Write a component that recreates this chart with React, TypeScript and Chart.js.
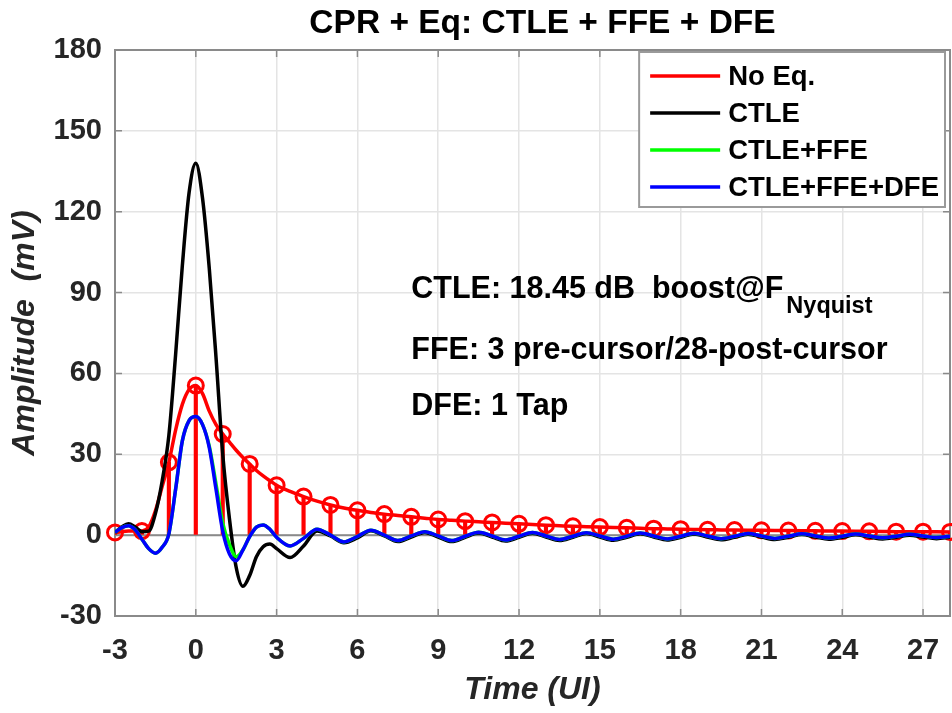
import React, { useEffect, useRef } from 'react';
import { Chart, registerables } from 'chart.js';

Chart.register(...registerables);

const FONT = "'Liberation Sans', Arial, Helvetica, sans-serif";

const chartTitle = 'CPR + Eq: CTLE + FFE + DFE';
const xTitle = 'Time (UI)';
const yTitle = 'Amplitude  (mV)';
const seriesNames = ['No Eq.', 'CTLE', 'CTLE+FFE', 'CTLE+FFE+DFE'];
const seriesColors = ['#ff0000', '#000000', '#00ff00', '#0000ff'];
const annotationLines = ['CTLE: 18.45 dB  boost@F', 'FFE: 3 pre-cursor/28-post-cursor', 'DFE: 1 Tap'];
const annotationSub = 'Nyquist';
const annotationX = 8;
const annotationY = [88, 65.5, 44.6];

// axis ranges / ticks
const xMin = -3;
const xMax = 28;
const xStep = 3;
const yMin = -30;
const yMax = 180;
const yStep = 30;

// time grid of the continuous waveforms (UI)
const timeUI = [
  -3, -2.75, -2.5, -2.25, -2, -1.75, -1.5, -1.25, -1, -0.75, -0.5, -0.25, 0,
  0.25, 0.5, 0.75, 1, 1.25, 1.5, 1.75, 2, 2.25, 2.5, 2.75, 3,
  3.5, 4, 4.5, 5, 5.5, 6, 6.5, 7, 7.5, 8, 8.5, 9, 9.5, 10, 10.5, 11, 11.5, 12,
  12.5, 13, 13.5, 14, 14.5, 15, 15.5, 16, 16.5, 17, 17.5, 18, 18.5, 19, 19.5, 20,
  20.5, 21, 21.5, 22, 22.5, 23, 23.5, 24, 24.5, 25, 25.5, 26, 26.5, 27, 27.5, 28,
];

// No Eq. continuous pulse response (mV)
const noEqMv = [
  1, 1.3, 1.5, 1.5, 1.5, 3, 9, 18, 27, 39, 48.5, 54, 55.5,
  52.5, 46, 41, 37.5, 34.5, 31.5, 28.8, 26.4, 24, 22, 20.2, 18.5,
  16.2, 14.3, 12.6, 11.2, 10.1, 9.2, 8.4, 7.8, 7.3, 6.8, 6.3, 5.8, 5.5, 5.2, 4.95, 4.7, 4.45, 4.2,
  3.95, 3.7, 3.5, 3.3, 3.15, 3.0, 2.85, 2.7, 2.55, 2.4, 2.3, 2.2, 2.1, 2.0, 1.95, 1.9,
  1.85, 1.8, 1.75, 1.7, 1.65, 1.6, 1.55, 1.5, 1.45, 1.4, 1.35, 1.3, 1.3, 1.3, 1.25, 1.2,
];

// CTLE pulse response (mV)
const ctleMv = [
  1, 3, 4.2, 3, 1.3, 1.5, 8, 20, 37, 67, 100, 127, 138,
  125, 99, 66, 30, 6, -12, -19, -15, -8, -4.3, -3.3, -5,
  -8.3, -4, 1.5, -0.3, -2.8, -1, 1.6, -0.3, -2.4, -0.7, 1.0, -0.7, -2.4, -0.8, 0.8, -0.7, -2.2, -0.8,
  0.7, -0.7, -2.0, -0.8, 0.6, -0.7, -1.9, -0.8, 0.5, -0.7, -1.8, -0.8, 0.4, -0.7, -1.7, -0.8,
  0.3, -0.7, -1.6, -0.8, 0.2, -0.7, -1.5, -0.8, 0.1, -0.7, -1.4, -0.8, 0, -0.7, -1.3, -0.8,
];

// CTLE+FFE pulse response (mV)
const ctleFfeMv = [
  1, 2.8, 3.5, 2, -1.5, -5, -6.7, -4.5, 0.5, 17, 35, 42.5, 44,
  41, 33, 19, 4.5, -3.5, -8, -5.5, -0.5, 3, 3.8, 2.2, -0.8,
  -4, -1.2, 2.2, 0, -2.5, -0.5, 1.8, 0, -2, -0.3, 1.3, -0.3, -2, -0.4, 1.1, -0.3, -1.8, -0.4,
  1, -0.3, -1.6, -0.4, 0.9, -0.3, -1.5, -0.4, 0.8, -0.3, -1.4, -0.4, 0.7, -0.3, -1.3, -0.4,
  0.6, -0.3, -1.2, -0.4, 0.5, -0.3, -1.1, -0.4, 0.4, -0.3, -1.0, -0.4, 0.3, -0.3, -0.9, -0.4,
];

// CTLE+FFE+DFE pulse response (mV)
const ctleFfeDfeMv = [
  1, 2.8, 3.5, 2, -1.5, -5, -6.7, -4.5, 0.5, 17, 35, 42.5, 44,
  41, 32.5, 17, 1.5, -7, -9.5, -5.5, -0.5, 3, 3.8, 2.2, -0.8,
  -4, -1.2, 2.2, 0, -2.5, -0.5, 1.8, 0, -2, -0.3, 1.3, -0.3, -2, -0.4, 1.1, -0.3, -1.8, -0.4,
  1, -0.3, -1.6, -0.4, 0.9, -0.3, -1.5, -0.4, 0.8, -0.3, -1.4, -0.4, 0.7, -0.3, -1.3, -0.4,
  0.6, -0.3, -1.2, -0.4, 0.5, -0.3, -1.1, -0.4, 0.4, -0.3, -1.0, -0.4, 0.3, -0.3, -0.9, -0.4,
];

// No Eq. cursor samples (stems)
const cursorUI = [-3, -2, -1, 0, 1, 2, 3, 4, 5, 6, 7, 8, 9, 10, 11, 12, 13, 14, 15, 16, 17, 18, 19, 20, 21, 22, 23, 24, 25, 26, 27, 28];
const cursorMv = [1, 1.5, 27, 55.5, 37.5, 26.4, 18.5, 14.3, 11.2, 9.2, 7.8, 6.8, 5.8, 5.2, 4.7, 4.2, 3.7, 3.3, 3.0, 2.7, 2.4, 2.2, 2.0, 1.9, 1.8, 1.7, 1.6, 1.5, 1.4, 1.3, 1.3, 1.2];

const toXY = (xs: number[], ys: number[]) => xs.map((x, i) => ({ x, y: ys[i] }));

const AXIS_COLOR = '#8a8a8a';
const TEXT_COLOR = '#262626';

const zeroPadding = () => ({ left: 0, top: 0, right: 0, bottom: 0 });

const framePlugin = {
  id: 'matlabFrame',
  beforeDatasetsDraw(chart: any) {
    const { ctx, chartArea: a, scales } = chart;
    const xs = scales.x;
    const ys = scales.y;
    ctx.save();
    ctx.strokeStyle = AXIS_COLOR;
    ctx.lineWidth = 2;
    const y0 = ys.getPixelForValue(0);
    ctx.beginPath();
    ctx.moveTo(a.left, y0);
    ctx.lineTo(a.right, y0);
    ctx.stroke();
    ctx.lineWidth = 1.5;
    ctx.beginPath();
    xs.ticks.forEach((t: any) => {
      const p = xs.getPixelForValue(t.value);
      ctx.moveTo(p, a.bottom);
      ctx.lineTo(p, a.bottom - 7);
      ctx.moveTo(p, a.top);
      ctx.lineTo(p, a.top + 7);
    });
    ys.ticks.forEach((t: any) => {
      const p = ys.getPixelForValue(t.value);
      ctx.moveTo(a.left, p);
      ctx.lineTo(a.left + 7, p);
      ctx.moveTo(a.right, p);
      ctx.lineTo(a.right - 7, p);
    });
    ctx.stroke();
    ctx.lineWidth = 2;
    ctx.strokeRect(a.left, a.top, a.right - a.left, a.bottom - a.top);
    ctx.restore();
  },
};

const titlePlugin = {
  id: 'matlabTitle',
  afterDraw(chart: any) {
    const { ctx, chartArea: a } = chart;
    ctx.save();
    ctx.font = `bold 33.5px ${FONT}`;
    ctx.fillStyle = '#000';
    ctx.textAlign = 'center';
    ctx.textBaseline = 'alphabetic';
    ctx.fillText(chartTitle, (a.left + a.right) / 2 + 10, 33);
    ctx.restore();
  },
};

const annotationPlugin = {
  id: 'matlabText',
  afterDatasetsDraw(chart: any) {
    const { ctx, scales } = chart;
    ctx.save();
    ctx.fillStyle = '#000';
    ctx.textBaseline = 'alphabetic';
    ctx.textAlign = 'left';
    annotationLines.forEach((line, i) => {
      const px = scales.x.getPixelForValue(annotationX);
      const py = scales.y.getPixelForValue(annotationY[i]);
      ctx.font = `bold 30.5px ${FONT}`;
      ctx.fillText(line, px, py);
      if (i === 0) {
        const w = ctx.measureText(line).width;
        ctx.font = `bold 23.5px ${FONT}`;
        ctx.fillText(annotationSub, px + w + 3, py + 15);
      }
    });
    ctx.restore();
  },
};

const legendPlugin = {
  id: 'matlabLegend',
  afterDraw(chart: any) {
    const { ctx, chartArea: a } = chart;
    ctx.save();
    ctx.font = `bold 27.5px ${FONT}`;
    const textW = Math.max(...seriesNames.map((s) => ctx.measureText(s).width));
    const padL = 11;
    const lineLen = 70;
    const gap = 8;
    const padR = 6;
    const boxW = padL + lineLen + gap + textW + padR;
    const boxH = 155;
    const right = a.right - 5;
    const top = a.top + 2;
    const left = right - boxW;
    ctx.fillStyle = '#ffffff';
    ctx.fillRect(left, top, boxW, boxH);
    ctx.strokeStyle = '#9a9a9a';
    ctx.lineWidth = 2;
    ctx.strokeRect(left, top, boxW, boxH);
    seriesNames.forEach((name, i) => {
      const y = top + 24 + i * 37;
      ctx.strokeStyle = seriesColors[i];
      ctx.lineWidth = 3.5;
      ctx.beginPath();
      ctx.moveTo(left + padL, y);
      ctx.lineTo(left + padL + lineLen, y);
      ctx.stroke();
      ctx.fillStyle = '#000';
      ctx.textBaseline = 'middle';
      ctx.textAlign = 'left';
      ctx.fillText(name, left + padL + lineLen + gap, y + 1);
    });
    ctx.restore();
  },
};

export default function App() {
  const canvasRef = useRef<HTMLCanvasElement | null>(null);

  useEffect(() => {
    if (!canvasRef.current) return;
    const lineStyle = {
      type: 'line' as const,
      pointRadius: 0,
      borderWidth: 3.5,
      fill: false,
      cubicInterpolationMode: 'monotone' as const,
    };
    const chart = new Chart(canvasRef.current, {
      type: 'line',
      data: {
        datasets: [
          {
            ...lineStyle,
            label: seriesNames[3],
            data: toXY(timeUI, ctleFfeDfeMv),
            borderColor: seriesColors[3],
            order: 0,
          },
          {
            ...lineStyle,
            label: seriesNames[2],
            data: toXY(timeUI, ctleFfeMv),
            borderColor: seriesColors[2],
            order: 1,
          },
          {
            ...lineStyle,
            label: seriesNames[1],
            data: toXY(timeUI, ctleMv),
            borderColor: seriesColors[1],
            order: 2,
          },
          {
            type: 'line',
            label: 'No Eq. samples',
            data: toXY(cursorUI, cursorMv),
            showLine: false,
            pointRadius: 7.5,
            pointBorderWidth: 3,
            pointBorderColor: seriesColors[0],
            pointBackgroundColor: 'rgba(0,0,0,0)',
            clip: false as any,
            order: 3,
          } as any,
          {
            type: 'bar',
            label: 'No Eq. stems',
            data: toXY(cursorUI, cursorMv),
            backgroundColor: seriesColors[0],
            borderWidth: 0,
            barThickness: 3.5,
            grouped: false,
            order: 4,
          } as any,
          {
            ...lineStyle,
            label: seriesNames[0],
            data: toXY(timeUI, noEqMv),
            borderColor: seriesColors[0],
            order: 5,
          },
        ],
      },
      options: {
        responsive: false,
        devicePixelRatio: 1,
        animation: false,
        events: [],
        layout: { autoPadding: false, padding: { top: 50, right: 2, bottom: 0, left: 0 } },
        plugins: {
          legend: { display: false },
          tooltip: { enabled: false },
          title: { display: false },
        },
        scales: {
          x: {
            type: 'linear',
            min: xMin,
            max: xMax,
            offset: false,
            afterFit: (s: any) => {
              s.height = 97;
              s.paddingLeft = 0;
              s.paddingRight = 0;
              s.getPadding = zeroPadding;
            },
            ticks: {
              stepSize: xStep,
              includeBounds: false,
              autoSkip: false,
              maxRotation: 0,
              padding: 18,
              color: TEXT_COLOR,
              font: { family: FONT, size: 29, weight: 'bold' },
            },
            grid: { color: '#e4e4e4', lineWidth: 1.5, drawTicks: false, offset: false },
            border: { display: false },
            title: {
              display: true,
              text: xTitle,
              color: TEXT_COLOR,
              font: { family: FONT, size: 32, weight: 'bold', style: 'italic' },
              padding: { top: 0, bottom: 4 },
            },
          },
          y: {
            type: 'linear',
            min: yMin,
            max: yMax,
            afterFit: (s: any) => {
              s.width = 115;
              s.paddingTop = 0;
              s.paddingBottom = 0;
              s.getPadding = zeroPadding;
            },
            ticks: {
              stepSize: yStep,
              padding: 13,
              color: TEXT_COLOR,
              font: { family: FONT, size: 29, weight: 'bold' },
            },
            grid: { color: '#e4e4e4', lineWidth: 1.5, drawTicks: false },
            border: { display: false },
            title: {
              display: true,
              text: yTitle,
              color: TEXT_COLOR,
              font: { family: FONT, size: 32, weight: 'bold', style: 'italic' },
              padding: { top: 6, bottom: 0 },
            },
          },
        },
      } as any,
      plugins: [framePlugin, annotationPlugin, legendPlugin, titlePlugin],
    });
    return () => chart.destroy();
  }, []);

  return (
    <div style={{ position: 'fixed', left: 0, top: 0, width: 952, height: 713, background: '#ffffff' }}>
      <canvas ref={canvasRef} width={952} height={713} style={{ display: 'block', width: 952, height: 713 }} />
    </div>
  );
}
